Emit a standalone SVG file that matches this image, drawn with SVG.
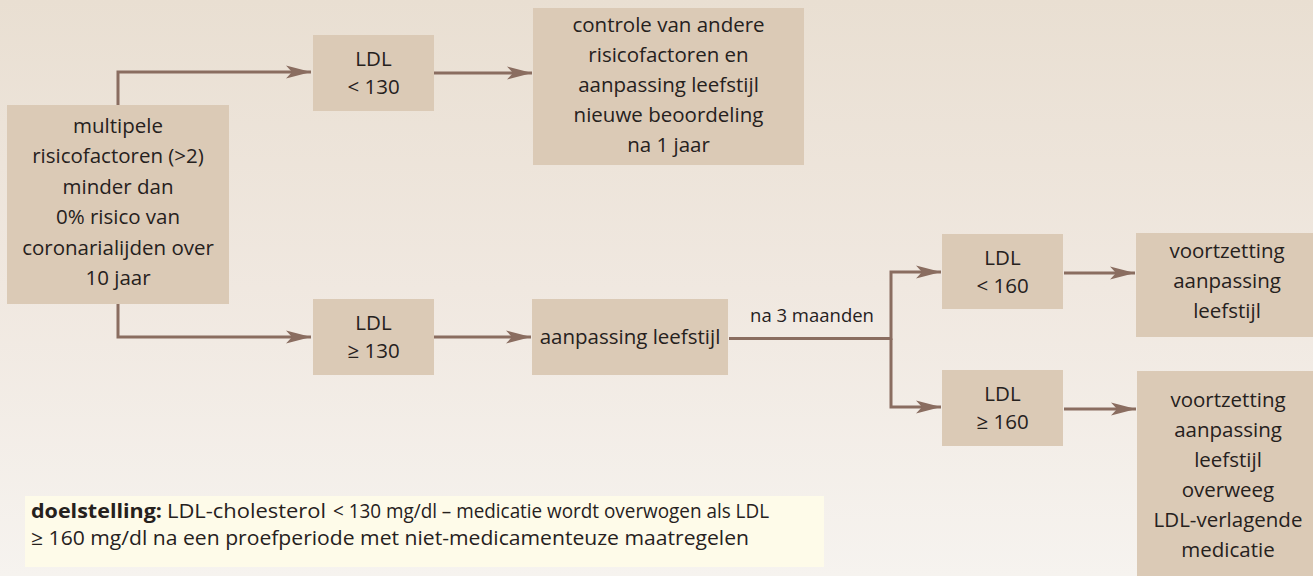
<svg xmlns="http://www.w3.org/2000/svg" width="1313" height="576" viewBox="0 0 1313 576">
<defs>
<linearGradient id="bg" x1="0" y1="0" x2="0" y2="1">
<stop offset="0" stop-color="#e9dfd2"/>
<stop offset="0.5" stop-color="#f0e8e0"/>
<stop offset="1" stop-color="#f6f3ef"/>
</linearGradient>
<marker id="arr" markerUnits="userSpaceOnUse" markerWidth="26" markerHeight="14" refX="25" refY="7" orient="auto" overflow="visible">
<path d="M0,0.5 L25,7 L0,13.5 L6,7 z" fill="#8a6d60"/>
</marker>
</defs>
<style>
.box{fill:#dbcab6}
.t{font-family:"Open Sans","Noto Sans","DejaVu Sans",sans-serif;font-size:20.5px;fill:#26211d;text-anchor:middle}
.c{fill:none;stroke:#8a6d60;stroke-width:3}
.n{font-family:"Open Sans","Noto Sans","DejaVu Sans",sans-serif;font-size:20px;fill:#26211d}
</style>
<rect width="1313" height="576" fill="url(#bg)"/>

<g id="connectors">
<path class="c" d="M118,105 V72 H311" marker-end="url(#arr)"/>
<path class="c" d="M434,73 H532" marker-end="url(#arr)"/>
<path class="c" d="M118,304 V337 H311" marker-end="url(#arr)"/>
<path class="c" d="M434,337 H531" marker-end="url(#arr)"/>
<path class="c" d="M729,338.5 H891 V272 H941" marker-end="url(#arr)"/>
<path class="c" d="M891,338.5 V407 H941" marker-end="url(#arr)"/>
<path class="c" d="M1064,273 H1135" marker-end="url(#arr)"/>
<path class="c" d="M1064,409 H1136" marker-end="url(#arr)"/>
<text class="t" x="812" y="322" style="font-size:18.5px">na 3 maanden</text>
</g>

<g id="start">
<rect class="box" x="7" y="105" width="222" height="199"/>
<text class="t" x="118" y="133">multipele</text>
<text class="t" x="118" y="163.4">risicofactoren (&gt;2)</text>
<text class="t" x="118" y="193.8">minder dan</text>
<text class="t" x="118" y="224.2">0% risico van</text>
<text class="t" x="118" y="254.6">coronarialijden over</text>
<text class="t" x="118" y="285">10 jaar</text>
</g>

<g id="ldl-lt-130">
<rect class="box" x="313" y="35" width="121" height="76"/>
<text class="t" x="373.5" y="66">LDL</text>
<text class="t" x="373.5" y="94">&lt; 130</text>
</g>

<g id="controle">
<rect class="box" x="533" y="8" width="271" height="157"/>
<text class="t" x="668.5" y="32">controle van andere</text>
<text class="t" x="668.5" y="62">risicofactoren en</text>
<text class="t" x="668.5" y="92">aanpassing leefstijl</text>
<text class="t" x="668.5" y="122">nieuwe beoordeling</text>
<text class="t" x="668.5" y="152">na 1 jaar</text>
</g>

<g id="ldl-ge-130">
<rect class="box" x="313" y="299" width="121" height="76"/>
<text class="t" x="373.5" y="330">LDL</text>
<text class="t" x="373.5" y="358">≥ 130</text>
</g>

<g id="aanpassing">
<rect class="box" x="532" y="299" width="196" height="76"/>
<text class="t" x="630" y="344">aanpassing leefstijl</text>
</g>

<g id="ldl-lt-160">
<rect class="box" x="942" y="234" width="121" height="75"/>
<text class="t" x="1002.5" y="265">LDL</text>
<text class="t" x="1002.5" y="293">&lt; 160</text>
</g>

<g id="ldl-ge-160">
<rect class="box" x="942" y="370" width="121" height="76"/>
<text class="t" x="1002.5" y="401">LDL</text>
<text class="t" x="1002.5" y="429">≥ 160</text>
</g>

<g id="voortzetting">
<rect class="box" x="1136" y="233" width="182" height="104"/>
<text class="t" x="1227" y="258">voortzetting</text>
<text class="t" x="1227" y="288">aanpassing</text>
<text class="t" x="1227" y="318">leefstijl</text>
</g>

<g id="voortzetting-medicatie">
<rect class="box" x="1137" y="371" width="182" height="210"/>
<text class="t" x="1228" y="407">voortzetting</text>
<text class="t" x="1228" y="437">aanpassing</text>
<text class="t" x="1228" y="467">leefstijl</text>
<text class="t" x="1228" y="497">overweeg</text>
<text class="t" x="1228" y="527">LDL-verlagende</text>
<text class="t" x="1228" y="557">medicatie</text>
</g>

<g id="doelstelling">
<rect x="25" y="496" width="799" height="71" fill="#fefbe9"/>
<text class="n" y="518"><tspan x="31" font-weight="bold" textLength="131" lengthAdjust="spacingAndGlyphs">doelstelling:</tspan><tspan x="167" textLength="159" lengthAdjust="spacingAndGlyphs">LDL-cholesterol</tspan><tspan x="333" textLength="436" lengthAdjust="spacingAndGlyphs">&lt; 130 mg/dl – medicatie wordt overwogen als LDL</tspan></text>
<text class="n" x="31" y="545" textLength="718" lengthAdjust="spacingAndGlyphs">≥ 160 mg/dl na een proefperiode met niet-medicamenteuze maatregelen</text>
</g>
</svg>
